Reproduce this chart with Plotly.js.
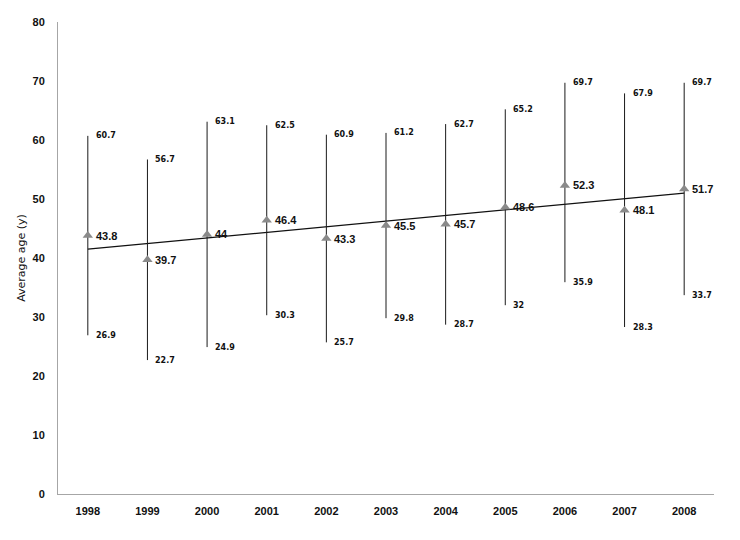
<!DOCTYPE html>
<html>
<head>
<meta charset="utf-8">
<script src="https://cdn.plot.ly/plotly-3.0.1.min.js"></script>
<style>html,body{margin:0;padding:0;background:#fff;}#chart{width:740px;height:540px;}</style>
</head>
<body>
<div id="chart"></div>
<script>
const years = ['1998','1999','2000','2001','2002','2003','2004','2005','2006','2007','2008'];
const meanAge = [43.8, 39.7, 44, 46.4, 43.3, 45.5, 45.7, 48.6, 52.3, 48.1, 51.7];
const highAge = [60.7, 56.7, 63.1, 62.5, 60.9, 61.2, 62.7, 65.2, 69.7, 67.9, 69.7];
const lowAge  = [26.9, 22.7, 24.9, 30.3, 25.7, 29.8, 28.7, 32, 35.9, 28.3, 33.7];
const trendYears = ['1998', '2008'];
const trendAge = [41.5, 51.0];
const yTicks = [0, 10, 20, 30, 40, 50, 60, 70, 80];

const rangeTrace = {
  type: 'scatter', mode: 'markers',
  x: years, y: meanAge,
  marker: {symbol: 'triangle-up', size: 9, color: '#8a8a8a'},
  error_y: {
    type: 'data', symmetric: false,
    array: highAge.map((h, i) => h - meanAge[i]),
    arrayminus: lowAge.map((l, i) => meanAge[i] - l),
    width: 0, thickness: 1, color: '#1a1a1a'
  },
  hoverinfo: 'skip', showlegend: false
};
const trendTrace = {
  type: 'scatter', mode: 'lines',
  x: trendYears, y: trendAge,
  line: {color: '#111', width: 1.2},
  hoverinfo: 'skip', showlegend: false
};

const annotations = [];
const smallFont = {family: 'DejaVu Sans', size: 8, color: '#111', weight: 700};
const meanFont = {family: 'Liberation Sans', size: 11, color: '#111', weight: 700};
for (let i = 0; i < years.length; i++) {
  annotations.push({xref: 'x', yref: 'y', x: i, y: highAge[i], text: String(highAge[i]), showarrow: false,
    xanchor: 'left', yanchor: 'middle', xshift: 6, font: smallFont});
  annotations.push({xref: 'x', yref: 'y', x: i, y: lowAge[i], text: String(lowAge[i]), showarrow: false,
    xanchor: 'left', yanchor: 'middle', xshift: 6, font: smallFont});
  annotations.push({xref: 'x', yref: 'y', x: i, y: meanAge[i], text: String(meanAge[i]), showarrow: false,
    xanchor: 'left', yanchor: 'middle', xshift: 6, font: meanFont});
}

const tickFont = {family: 'Liberation Sans', size: 11, color: '#111', weight: 700};
const layout = {
  width: 740, height: 540,
  margin: {l: 58, r: 26, t: 22, b: 46},
  paper_bgcolor: '#fff', plot_bgcolor: '#fff',
  showlegend: false,
  xaxis: {
    type: 'category', categoryorder: 'array', categoryarray: years, range: [-0.5, 10.5],
    showgrid: false, zeroline: false,
    showline: true, linecolor: '#a6a6a6', linewidth: 1,
    ticks: '', ticklabelstandoff: 7,
    tickfont: tickFont
  },
  yaxis: {
    range: [0, 80], tickvals: yTicks,
    showgrid: false, zeroline: false,
    showline: true, linecolor: '#a6a6a6', linewidth: 1,
    ticks: '', ticklabelstandoff: 10,
    tickfont: tickFont,
    title: {text: 'Average age (y)', font: {family: 'DejaVu Sans', size: 11, color: '#111'}, standoff: 4}
  },
  annotations: annotations
};

Plotly.newPlot('chart', [trendTrace, rangeTrace], layout, {displayModeBar: false, staticPlot: true});
</script>
</body>
</html>
